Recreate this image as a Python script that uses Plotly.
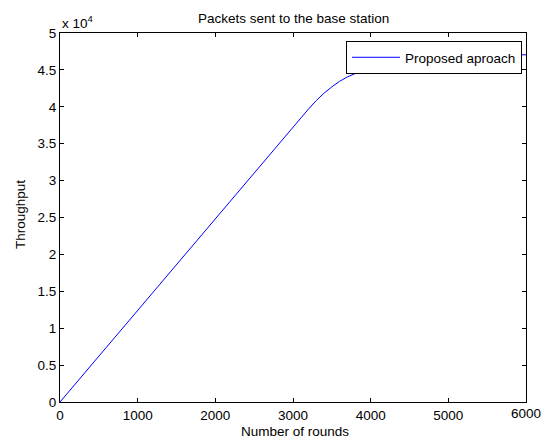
import plotly.graph_objects as go

rounds = [0, 500, 1000, 1500, 2000, 2500, 3000, 3100, 3200, 3300, 3400, 3500, 3600, 3700, 3800, 3900, 4000, 4200, 4500, 5000, 5500, 6000]
throughput = [0, 6200, 12400, 18700, 24900, 31100, 37300, 38550, 39700, 40850, 41850, 42700, 43450, 44050, 44550, 44950, 45300, 45850, 46350, 46800, 47000, 47050]

x_ticks = [0, 1000, 2000, 3000, 4000, 5000, 6000]
x_ticktext = ["0", "1000", "2000", "3000", "4000", "5000", "6000"]
y_ticks = [0, 5000, 10000, 15000, 20000, 25000, 30000, 35000, 40000, 45000, 50000]
y_ticktext = ["0", "0.5", "1", "1.5", "2", "2.5", "3", "3.5", "4", "4.5", "5"]

FONT = "Liberation Sans, Arial, sans-serif"
W, H = 541, 439
L, R, T, B = 60, 526, 33, 402

fig = go.Figure()
fig.add_trace(go.Scatter(x=rounds, y=throughput, mode="lines",
                         line=dict(color="#0000ff", width=1),
                         name="Proposed aproach", showlegend=True))

axis_common = dict(showline=True, linecolor="black", linewidth=1, mirror="ticks",
                   ticks="inside", ticklen=4, tickcolor="black", showgrid=False,
                   zeroline=False, automargin=False,
                   tickfont=dict(family=FONT, size=13.5, color="black"))

# last x tick label would be dropped by plotly (it overflows the page edge), so
# it is drawn as an annotation at the same axis value instead
shown_xtext = x_ticktext[:-1] + [""]

fig.update_layout(
    width=W, height=H,
    margin=dict(l=L, r=W - R, t=T, b=H - B, pad=0, autoexpand=False),
    paper_bgcolor="white", plot_bgcolor="white",
    font=dict(family=FONT, size=13.5, color="black"),
    xaxis=dict(range=[0, 6000], tickvals=x_ticks, ticktext=shown_xtext,
               ticklabelstandoff=1, **axis_common),
    yaxis=dict(range=[0, 50000], tickvals=y_ticks, ticktext=y_ticktext, **axis_common),
    showlegend=True,
    legend=dict(x=(522 - L) / (R - L), y=(B - 41) / (B - T), xanchor="right", yanchor="top",
                bgcolor="white", bordercolor="black", borderwidth=1,
                font=dict(family=FONT, size=13.5, color="black"),
                tracegroupgap=0, itemwidth=48),
)

fig.add_annotation(text=x_ticktext[-1], xref="x", yref="paper",
                   x=x_ticks[-1], y=-(413 - B) / (B - T), xanchor="center", yanchor="middle",
                   showarrow=False, font=dict(family=FONT, size=13.5))
fig.add_annotation(text="Packets sent to the base station", xref="paper", yref="paper",
                   x=0.5, y=1 + (T - 18) / (B - T), xanchor="center", yanchor="middle",
                   showarrow=False, font=dict(family=FONT, size=13.5))
fig.add_annotation(text="Number of rounds", xref="paper", yref="paper",
                   x=(295 - L) / (R - L), y=-(431 - B) / (B - T), xanchor="center", yanchor="middle",
                   showarrow=False, font=dict(family=FONT, size=13.5))
fig.add_annotation(text="Throughput", xref="paper", yref="paper", textangle=-90,
                   x=-(L - 20) / (R - L), y=(B - 215) / (B - T), xanchor="center", yanchor="middle",
                   showarrow=False, font=dict(family=FONT, size=13.5))
fig.add_annotation(text="x 10<sup>4</sup>", xref="paper", yref="paper",
                   x=0, y=1 + (T - 22) / (B - T), xanchor="left", yanchor="middle",
                   showarrow=False, font=dict(family=FONT, size=13.5))

fig.write_html("out.html")
